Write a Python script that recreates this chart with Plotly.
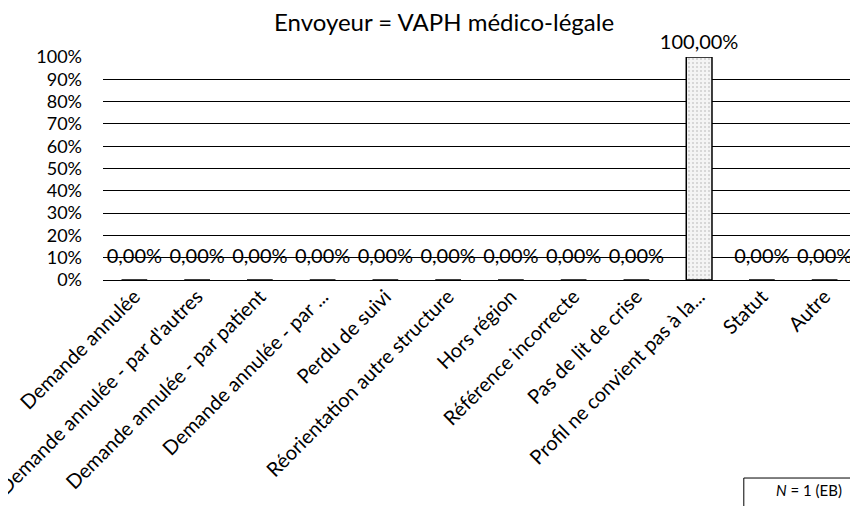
import plotly.graph_objects as go

# categories and shares (fraction of referrals)
categories = [
    "Demande annulée",
    "Demande annulée - par d'autres",
    "Demande annulée - par patient",
    "Demande annulée - par ...",
    "Perdu de suivi",
    "Réorientation autre structure",
    "Hors région",
    "Référence incorrecte",
    "Pas de lit de crise",
    "Profil ne convient pas à la...",
    "Statut",
    "Autre",
]
shares = [0, 0, 0, 0, 0, 0, 0, 0, 0, 1.0, 0, 0]
labels = [f"{v * 100:.2f}%".replace(".", ",") for v in shares]

font_family = "Lato, Carlito, Calibri, sans-serif"

# the page body has an 8px margin, so the figure is sized 8px smaller
fig = go.Figure()
fig.add_trace(go.Bar(
    x=categories,
    y=shares,
    width=0.41,
    marker=dict(
        color="#efefef",
        line=dict(color="black", width=1.5),
        pattern=dict(shape=".", fgcolor="#a8a8a8", bgcolor="#f4f4f4", size=4, solidity=0.2),
    ),
    hoverinfo="skip",
))
# value labels above each bar (zero bars get a bit more lift, as in Excel)
fig.add_trace(go.Scatter(
    x=categories,
    y=shares,
    mode="markers+text",
    marker=dict(size=[18 if v == 0 else 4 for v in shares], opacity=0),
    text=labels,
    textposition="top center",
    textfont=dict(size=20, color="black", family=font_family),
    cliponaxis=False,
    hoverinfo="skip",
))

fig.update_layout(
    width=850,
    height=498,
    margin=dict(l=95, r=2, t=49, b=226),
    paper_bgcolor="white",
    plot_bgcolor="white",
    showlegend=False,
    font=dict(family=font_family, size=18, color="black"),
    title=dict(text="Envoyeur = VAPH médico-légale", x=0.513, xanchor="center",
               y=1 - 15 / 498, yanchor="middle", font=dict(size=24, family=font_family, color="black")),
    shapes=[dict(type="rect", xref="paper", yref="paper", x0=0.851, x1=1.05, y0=-0.888, y1=-1.3,
                 line=dict(color="black", width=1), fillcolor="white")],
    annotations=[dict(
        text="<i>N</i> = 1 (EB)", xref="paper", yref="paper", x=0.9376, y=-0.942,
        xanchor="center", yanchor="middle", showarrow=False,
        font=dict(size=15, family=font_family, color="black"),
    )],
)

fig.update_xaxes(range=[-0.5, len(categories) - 0.5], tickangle=-45, automargin=False,
                 showline=False, ticks="", tickfont=dict(size=20, family=font_family))
fig.update_yaxes(range=[0, 1], dtick=0.1, tickformat=".0%", automargin=False,
                 showgrid=True, gridcolor="black", gridwidth=1.2,
                 zeroline=True, zerolinecolor="black", zerolinewidth=1.2,
                 ticks="", ticklabelstandoff=20,
                 tickfont=dict(size=18, family=font_family))

fig.write_html("out.html")
